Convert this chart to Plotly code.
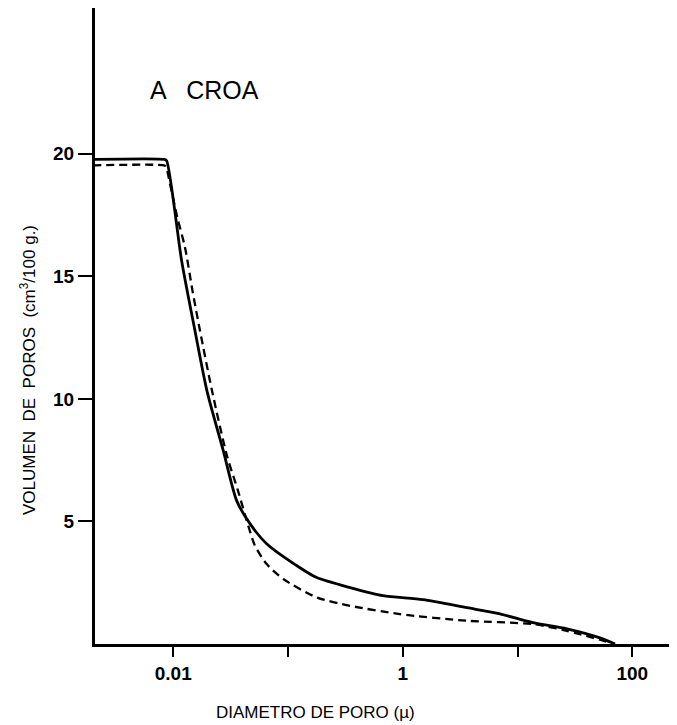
import plotly.graph_objects as go

# Data (pore diameter in microns, pore volume cm3/100 g)
solid_x = [0.002, 0.0084, 0.00876, 0.01183, 0.01546, 0.01966, 0.02728, 0.03568,
           0.0466, 0.06515, 0.1271, 0.1777, 0.3467, 0.672, 1.50, 3.63, 7.03, 13.63,
           26.97, 52.3, 70.7]
solid_y = [19.77, 19.77, 19.72, 15.64, 12.78, 10.33, 7.89, 5.85,
           4.91, 4.09, 3.11, 2.71, 2.30, 1.97, 1.81, 1.48, 1.23, 0.87,
           0.62, 0.25, 0.0]

dashed_x = [0.002, 0.0083, 0.00864, 0.00936, 0.01083, 0.01265, 0.01470, 0.01709, 0.02175,
            0.02938, 0.03663, 0.04502, 0.05152, 0.06515, 0.09093, 0.1777, 0.3467, 0.9454,
            3.605, 13.72, 26.81, 70.7]
dashed_y = [19.53, 19.53, 19.48, 18.78, 17.42, 16.19, 14.42, 12.79, 10.34,
            7.68, 6.26, 4.83, 4.01, 3.26, 2.65, 1.90, 1.56, 1.22,
            0.95, 0.81, 0.54, 0.0]

x_label_vals = [0.01, 1, 100]
x_label_text = ["0.01", "1", "100"]
x_minor_vals = [0.1, 10]
y_tickvals = [5, 10, 15, 20]
y_ticktext = ["5", "10", "15", "20"]

title_text = "A   CROA"
x_title = "DIAMETRO DE PORO (µ)"
y_title = "VOLUMEN  DE  POROS  (cm<sup>3</sup>/100 g.)"

FONT = "Liberation Sans, Arial, Helvetica, sans-serif"

# The page body adds an 8px offset; the figure is sized to fit inside the window.
W, H = 669, 717
L, R, T, B = 87, 0, 0, 81
PW, PH = W - L - R, H - T - B


def px_x(ref_px):
    """reference pixel x -> paper x"""
    return (ref_px - 8 - L) / PW


def px_y(ref_py):
    """reference pixel y -> paper y"""
    return (H - B - (ref_py - 8)) / PH


fig = go.Figure()
fig.add_trace(go.Scatter(x=solid_x, y=solid_y, mode="lines",
                         line=dict(color="black", width=2.8, shape="spline", smoothing=0.7),
                         showlegend=False))
fig.add_trace(go.Scatter(x=dashed_x, y=dashed_y, mode="lines",
                         line=dict(color="black", width=2.3, dash="8px,5px",
                                   shape="spline", smoothing=0.7),
                         showlegend=False))

fig.update_layout(
    width=W, height=H,
    margin=dict(l=L, r=R, t=T, b=B, pad=0),
    paper_bgcolor="white", plot_bgcolor="white",
    font=dict(family=FONT, color="black"),
    showlegend=False,
)

fig.update_xaxes(
    type="log", range=[-2.682, 2.39], automargin=False,
    showgrid=False, zeroline=False,
    showline=True, linecolor="black", linewidth=3,
    ticks="outside", ticklen=10, tickwidth=2, tickcolor="black",
    tickmode="array", tickvals=x_label_vals, ticktext=x_label_text,
    tickfont=dict(size=19, family=FONT, weight="bold"),
    minor=dict(tickmode="array", tickvals=x_minor_vals, ticks="outside",
               ticklen=10, tickwidth=2, tickcolor="black", showgrid=False),
)
fig.update_yaxes(
    range=[0, 25.95], automargin=False,
    showgrid=False, zeroline=False,
    showline=True, linecolor="black", linewidth=3,
    ticks="outside", ticklen=14, tickwidth=2, tickcolor="black",
    tickmode="array", tickvals=y_tickvals, ticktext=y_ticktext,
    tickfont=dict(size=19, family=FONT, weight="bold"),
)

# chart label
fig.add_annotation(text=title_text, xref="paper", yref="paper",
                   x=px_x(148), y=px_y(90), xanchor="left", yanchor="middle",
                   showarrow=False, font=dict(size=25, family=FONT))
# x-axis title
fig.add_annotation(text=x_title, xref="paper", yref="paper",
                   x=px_x(315), y=px_y(712), xanchor="center", yanchor="middle",
                   showarrow=False, font=dict(size=17, family=FONT))
# y-axis title
fig.add_annotation(text=y_title, xref="paper", yref="paper",
                   x=px_x(28), y=px_y(370), xanchor="center", yanchor="middle",
                   textangle=-90, showarrow=False, font=dict(size=17, family=FONT))

fig.write_html("out.html")
